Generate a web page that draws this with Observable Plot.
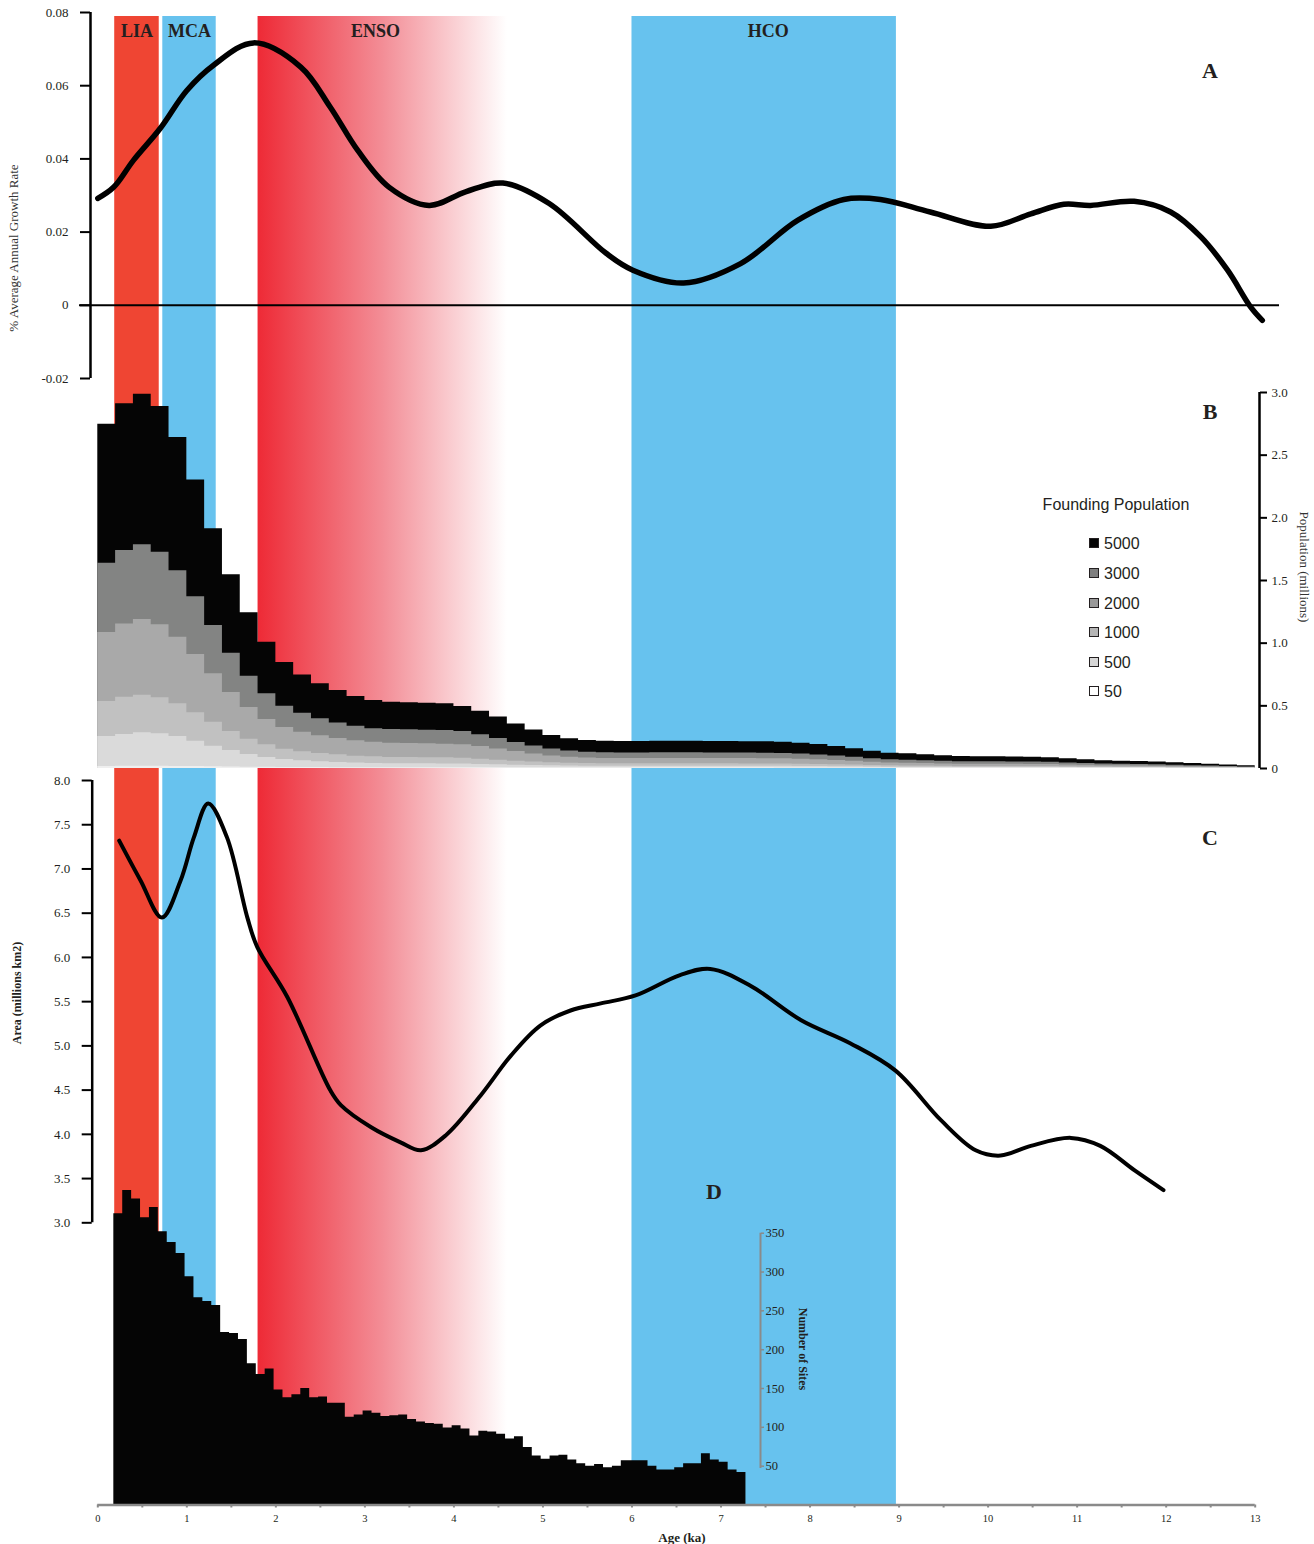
<!DOCTYPE html>
<html><head><meta charset="utf-8">
<script src="https://cdn.jsdelivr.net/npm/d3@7"></script>
<script src="https://cdn.jsdelivr.net/npm/@observablehq/plot@0.6"></script>
<style>
html,body{margin:0;padding:0;background:#fff;overflow:hidden;}
#chart{position:relative;width:1314px;height:1544px;overflow:hidden;font-family:"Liberation Serif","Times New Roman",serif;color:#231F20;}
#chart svg{position:absolute;left:0;top:0;}
.lbl{position:absolute;white-space:nowrap;line-height:1;}
.sw{position:absolute;width:8px;height:8px;border:1.8px solid #231F20;}
.leg{position:absolute;font-family:"Liberation Sans",Arial,sans-serif;color:#231F20;white-space:nowrap;line-height:1;}
</style></head><body><div id="chart"></div>
<script>
// ---------- DATA ----------
const periodNames = ["LIA", "MCA", "ENSO", "HCO"];
const periodStart = [0.19, 0.73, 1.80, 6.00];
const periodEnd = [0.69, 1.33, 4.60, 8.97];
const periodLabelAge = [0.44, 1.03, 3.12, 7.53];
const periodFill = ["#EF4533", "#67C2EE", "url(#ensoGradient)", "#67C2EE"];

// A: growth rate curve
const growthAge = [0, 0.18, 0.40, 0.70, 1.00, 1.30, 1.75, 2.28, 2.61, 2.92, 3.27, 3.72, 4.13, 4.55, 5.07, 5.71, 6.01, 6.58, 7.22, 7.86, 8.38, 8.79, 9.35, 10.03, 10.48, 10.85, 11.15, 11.64, 12.05, 12.39, 12.69, 12.95, 13.08];
const growthRate = [0.0292, 0.0323, 0.0396, 0.0483, 0.0587, 0.0656, 0.0717, 0.0651, 0.0542, 0.0423, 0.0323, 0.0273, 0.0310, 0.0334, 0.0278, 0.0142, 0.0096, 0.0061, 0.0114, 0.0232, 0.0289, 0.0289, 0.0255, 0.0216, 0.0250, 0.0276, 0.0273, 0.0284, 0.0255, 0.0187, 0.0096, -0.0005, -0.0041];
const growthTicks = [-0.02, 0, 0.02, 0.04, 0.06, 0.08];

// B: population (millions) per 0.2 ka bin, by founding population
const popBinWidth = 0.2;
const pop5000 = [2.747,2.910,2.987,2.888,2.641,2.301,1.912,1.545,1.242,1.008,0.846,0.747,0.676,0.622,0.574,0.543,0.529,0.524,0.521,0.516,0.495,0.457,
  0.410,0.356,0.308,0.263,0.237,0.223,0.218,0.215,
  0.216,0.217,0.217,0.217,0.216,0.215,0.214,0.213,
  0.210,0.202,0.191,0.176,0.157,0.138,0.122,
  0.117,0.109,0.101,0.096,0.093,0.093,0.092,0.090,0.086,0.078,0.070,0.062,0.058,0.055,0.052,0.046,0.040,0.033,0.027,0.022];
const pop3000 = [1.638,1.739,1.785,1.726,1.577,1.370,1.141,0.920,0.737,0.596,0.497,0.441,0.396,0.364,0.338,0.317,0.311,0.309,0.306,0.303,0.295,0.269,
  0.240,0.208,0.180,0.155,0.140,0.130,0.126,0.124,
  0.124,0.125,0.125,0.125,0.124,0.124,0.123,0.122,
  0.120,0.115,0.108,0.100,0.089,0.078,0.069,
  0.066,0.062,0.057,0.054,0.053,0.053,0.052,0.051,0.049,0.044,0.040,0.035,0.033,0.031,0.029,0.026,0.022,0.019,0.015,0.012];
const pop2000 = [1.085,1.152,1.189,1.146,1.048,0.910,0.755,0.606,0.487,0.391,0.327,0.290,0.261,0.239,0.221,0.210,0.202,0.199,0.197,0.194,0.189,0.176,
  0.155,0.135,0.116,0.099,0.089,0.083,0.080,0.079,
  0.079,0.080,0.080,0.080,0.079,0.079,0.079,0.078,
  0.077,0.074,0.070,0.064,0.057,0.050,0.044,
  0.042,0.039,0.036,0.034,0.033,0.033,0.033,0.032,0.031,0.028,0.025,0.022,0.021,0.020,0.018,0.016,0.014,0.012,0.010,0.008];
const pop1000 = [0.535,0.569,0.585,0.564,0.516,0.444,0.370,0.295,0.234,0.189,0.154,0.133,0.120,0.109,0.098,0.093,0.088,0.088,0.085,0.085,0.082,0.074,
  0.066,0.058,0.051,0.045,0.041,0.039,0.038,0.037,
  0.037,0.037,0.037,0.037,0.037,0.037,0.036,0.036,
  0.036,0.034,0.032,0.030,0.027,0.024,0.021,
  0.020,0.019,0.017,0.016,0.016,0.016,0.015,0.015,0.015,0.013,0.012,0.011,0.010,0.010,0.009,0.008,0.007,0.006,0.005,0.004];
const pop500 = [0.255,0.271,0.285,0.277,0.255,0.218,0.178,0.144,0.112,0.088,0.072,0.061,0.053,0.048,0.043,0.040,0.037,0.037,0.037,0.035,0.035,0.032,
  0.029,0.026,0.023,0.021,0.019,0.018,0.018,0.018,
  0.018,0.018,0.018,0.018,0.018,0.018,0.018,0.018,
  0.017,0.016,0.015,0.014,0.013,0.011,0.010,
  0.010,0.009,0.009,0.008,0.008,0.008,0.008,0.008,0.008,0.007,0.006,0.006,0.005,0.005,0.005,0.004,0.004,0.003,0.003,0.002];
const pop50 = [0.016,0.017,0.017,0.017,0.016,0.015,0.013,0.011,0.010,0.009,0.008,0.007,0.007,0.006,0.006,0.006,0.006,0.006,0.006,0.006,0.006,0.005,
  0.005,0.005,0.005,0.005,0.005,0.005,0.005,0.005,
  0.005,0.005,0.005,0.005,0.005,0.005,0.005,0.005,
  0.004,0.004,0.004,0.004,0.004,0.004,0.004,
  0.004,0.004,0.004,0.004,0.004,0.003,0.003,0.003,0.003,0.003,0.003,0.003,0.003,0.003,0.003,0.002,0.002,0.002,0.002,0.002];
const foundingLabels = ["5000", "3000", "2000", "1000", "500", "50"];
const foundingFill = ["#050505", "#838483", "#a9a9a9", "#c1c1c1", "#dadada", "#efefef"];
const foundingSwatch = ["#050505", "#7f7f7f", "#999999", "#b5b5b5", "#d6d6d6", "#ffffff"];
const popTicks = [0, 0.5, 1.0, 1.5, 2.0, 2.5, 3.0];

// C: area curve
const areaAge = [0.24, 0.48, 0.72, 0.93, 1.08, 1.24, 1.45, 1.68, 1.79, 2.13, 2.61, 2.73, 3.07, 3.40, 3.63, 3.91, 4.30, 4.64, 4.97, 5.31, 5.65, 6.04, 6.54, 6.88, 7.33, 7.90, 8.45, 8.96, 9.47, 9.86, 10.14, 10.48, 10.93, 11.26, 11.65, 11.97];
const areaValue = [7.32, 6.87, 6.45, 6.87, 7.36, 7.74, 7.36, 6.45, 6.12, 5.55, 4.50, 4.33, 4.08, 3.91, 3.82, 3.99, 4.44, 4.89, 5.23, 5.40, 5.48, 5.57, 5.80, 5.87, 5.68, 5.29, 5.03, 4.72, 4.16, 3.82, 3.76, 3.87, 3.96, 3.87, 3.59, 3.37];
const areaTicks = [3.0, 3.5, 4.0, 4.5, 5.0, 5.5, 6.0, 6.5, 7.0, 7.5, 8.0];

// D: number of sites per 0.1 ka bin, first bin starting at 0.18 ka
const siteFirstAge = 0.18;
const siteBinWidth = 0.1;
const siteCounts = [375,405,394,370,383,352,338,324,294,267,262,257,222,221,213,182,168,175,148,138,142,150,138,139,131,131,113,116,121,118,114,115,116,110,107,105,104,99,102,98,89,95,94,91,85,88,74,63,59,63,64,58,53,50,52,48,50,57,57,57,50,45,45,48,53,53,66,58,55,45,42];
const siteTicks = [50, 100, 150, 200, 250, 300, 350];
const ageTicks = d3.range(0, 13.01, 0.5);

// ---------- LAYOUT ----------
const W = 1314, H = 1544, X0 = 97.3, X1 = 1254.7;
const xScale = {domain: [0, 13], range: [X0, X1], axis: null};
const inv = px => (px - X0) / (X1 - X0) * 13;
const serif = '"Liberation Serif", "Times New Roman", serif';
const ink = "#231F20";
const baseStyle = {background: "transparent", overflow: "visible", fontFamily: serif, fontSize: "13px", color: ink};
const chart = document.getElementById("chart");

// Background bands
const bg = Plot.plot({
  width: W, height: H, marginTop: 16, marginBottom: 39, marginLeft: 0, marginRight: 0,
  style: baseStyle, x: xScale, y: {domain: [0, 1], axis: null},
  marks: [
    ...periodNames.map((n, i) => Plot.rect([{s: periodStart[i], e: periodEnd[i]}], {x1: "s", x2: "e", y1: 0, y2: 1, fill: periodFill[i]})),
    Plot.text(periodNames, {x: (d, i) => periodLabelAge[i], text: d => d, frameAnchor: "top", lineAnchor: "middle", dy: 15, fontWeight: "bold", fontSize: 18, fill: ink})
  ]
});
const ns = "http://www.w3.org/2000/svg";
const defs = document.createElementNS(ns, "defs");
const grad = document.createElementNS(ns, "linearGradient");
grad.setAttribute("id", "ensoGradient");
grad.setAttribute("x1", "0"); grad.setAttribute("x2", "1"); grad.setAttribute("y1", "0"); grad.setAttribute("y2", "0");
[["0", "#EE2A36"], ["0.5", "#F38D96"], ["1", "#FFFFFF"]].forEach(([o, c]) => {
  const s = document.createElementNS(ns, "stop");
  s.setAttribute("offset", o); s.setAttribute("stop-color", c);
  grad.appendChild(s);
});
defs.appendChild(grad);
bg.insertBefore(defs, bg.firstChild);
chart.appendChild(bg);

// Panel B (step areas, each series drawn from 0, largest behind)
const popSeries = [pop5000, pop3000, pop2000, pop1000, pop500, pop50];
const stepRows = (arr, start, width) => {
  const rows = arr.map((v, i) => ({age: start + i * width, v}));
  rows.push({age: start + arr.length * width, v: arr[arr.length - 1]});
  return rows;
};
const pb = Plot.plot({
  width: W, height: H, marginTop: 392, marginBottom: 776, marginLeft: 0, marginRight: 55,
  style: baseStyle, x: xScale, y: {domain: [0, 3], axis: null},
  marks: [
    ...popSeries.map((arr, k) => Plot.area(stepRows(arr, 0, popBinWidth), {x1: "age", y1: 0, y2: "v", curve: "step-after", fill: foundingFill[k]})),
    Plot.ruleX([inv(1259)], {y1: 0, y2: 3, stroke: "#000", strokeWidth: 2.5}),
    Plot.axisY({anchor: "right", ticks: popTicks, tickSize: 7, tickPadding: 5, strokeWidth: 2, stroke: "#000", label: null, fontSize: 13,
      tickFormat: d => d === 0 ? "0" : d.toFixed(1)})
  ]
});
chart.appendChild(pb);

// Panel C
const pc = Plot.plot({
  width: W, height: H, marginTop: 780, marginBottom: 321.7, marginLeft: 91.7, marginRight: 0,
  style: baseStyle, x: xScale, y: {domain: [3, 8], axis: null},
  marks: [
    Plot.line(areaAge.map((a, i) => ({a, v: areaValue[i]})), {x: "a", y: "v", curve: "catmull-rom", stroke: "#000", strokeWidth: 4, strokeLinecap: "round", strokeLinejoin: "round"}),
    Plot.ruleX([inv(91.7)], {y1: 3, y2: 8, stroke: "#000", strokeWidth: 2.5}),
    Plot.axisY({anchor: "left", ticks: areaTicks, tickSize: 10, tickPadding: 12, strokeWidth: 2, stroke: "#000", label: null, fontSize: 13,
      tickFormat: d => d.toFixed(1)})
  ]
});
chart.appendChild(pc);

// Panel D
const pd = Plot.plot({
  width: W, height: H, marginTop: 1232.7, marginBottom: 39.5, marginLeft: 0, marginRight: 554,
  style: baseStyle, x: xScale, y: {domain: [0, 350], axis: null},
  marks: [
    Plot.area(stepRows(siteCounts, siteFirstAge, siteBinWidth), {x1: "age", y1: 0, y2: "v", curve: "step-after", fill: "#050505"}),
    Plot.ruleX([inv(760)], {y1: 47, y2: 350, stroke: "#8a8a8a", strokeWidth: 2}),
    Plot.axisY({anchor: "right", ticks: siteTicks, tickSize: 3, tickPadding: 2, stroke: "#8a8a8a", strokeWidth: 1.5, label: null, fontSize: 12.5,
      tickFormat: d => String(d)}),
    Plot.ruleY([0], {x1: 0, x2: 13, stroke: "#8a8a8a", strokeWidth: 2.5}),
    Plot.axisX({anchor: "bottom", ticks: ageTicks, tickSize: 3, tickPadding: 7, stroke: "#8a8a8a", strokeWidth: 2, label: null, fontSize: 10.5,
      tickFormat: d => Number.isInteger(d) ? String(d) : ""})
  ]
});
chart.appendChild(pd);

// Panel A (drawn last, on top)
const pa = Plot.plot({
  width: W, height: H, marginTop: 12, marginBottom: 1166, marginLeft: 90, marginRight: 0,
  style: baseStyle, x: xScale, y: {domain: [-0.02, 0.08], axis: null},
  marks: [
    Plot.ruleY([0], {x1: inv(79), x2: inv(1279), stroke: "#000", strokeWidth: 2}),
    Plot.line(growthAge.map((a, i) => ({a, v: growthRate[i]})), {x: "a", y: "v", curve: "catmull-rom", stroke: "#000", strokeWidth: 5.5, strokeLinecap: "round", strokeLinejoin: "round"}),
    Plot.ruleX([inv(90)], {y1: -0.02, y2: 0.08, stroke: "#000", strokeWidth: 2.5}),
    Plot.axisY({anchor: "left", ticks: growthTicks, tickSize: 10, tickPadding: 12, strokeWidth: 2, stroke: "#000", label: null, fontSize: 13,
      tickFormat: d => d === 0 ? "0" : d.toFixed(2)})
  ]
});
chart.appendChild(pa);

// ---------- Text annotations ----------
function label(text, x, y, css, rot = 0) {
  const d = document.createElement("div");
  d.className = "lbl";
  d.textContent = text;
  d.style.left = x + "px";
  d.style.top = y + "px";
  d.style.transform = `translate(-50%,-50%) rotate(${rot}deg)`;
  Object.assign(d.style, css);
  chart.appendChild(d);
}
const bold22 = {fontWeight: "bold", fontSize: "22px"};
label("A", 1210, 71, bold22);
label("B", 1210, 412, bold22);
label("C", 1210, 838, bold22);
label("D", 714, 1192, bold22);
label("% Average Annual Growth Rate", 13, 248, {fontSize: "13px", color: "#333"}, -90);
label("Area (millions km2)", 17, 993, {fontSize: "12px", fontWeight: "bold"}, -90);
label("Population (millions)", 1304, 567, {fontSize: "13px", color: "#333"}, 90);
label("Number of Sites", 803, 1349, {fontSize: "12px", fontWeight: "bold"}, 90);
label("Age (ka)", 682, 1537, {fontSize: "13px", fontWeight: "bold"});

// Legend for panel B
const legTitle = document.createElement("div");
legTitle.className = "leg";
legTitle.textContent = "Founding Population";
Object.assign(legTitle.style, {left: "1116px", top: "505px", transform: "translate(-50%,-50%)", fontSize: "16px"});
chart.appendChild(legTitle);
const legY = [543.5, 573.5, 603.5, 633, 662.5, 692];
foundingLabels.forEach((t, i) => {
  const sw = document.createElement("div");
  sw.className = "sw";
  Object.assign(sw.style, {left: "1088.5px", top: (legY[i] - 5.8) + "px", background: foundingSwatch[i]});
  chart.appendChild(sw);
  const tx = document.createElement("div");
  tx.className = "leg";
  tx.textContent = t;
  Object.assign(tx.style, {left: "1104px", top: legY[i] + "px", transform: "translateY(-50%)", fontSize: "16px"});
  chart.appendChild(tx);
});
</script></body></html>
